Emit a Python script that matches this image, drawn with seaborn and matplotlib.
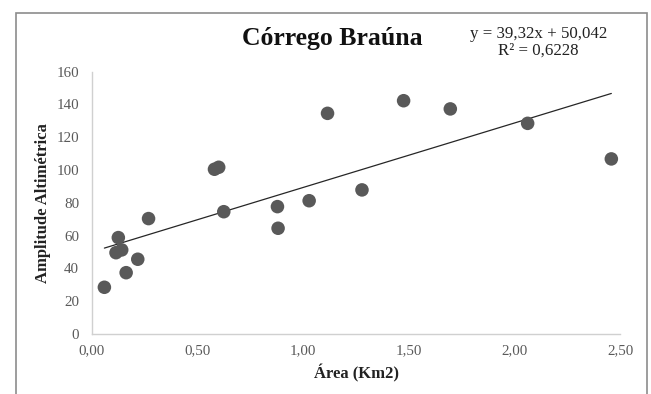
import matplotlib
matplotlib.use("Agg")
import matplotlib.pyplot as plt
import seaborn as sns
import numpy as np
import pandas as pd
from matplotlib.patches import Rectangle
from matplotlib.ticker import FuncFormatter

# Data
area_km2 = [0.060, 0.126, 0.115, 0.142, 0.163, 0.218, 0.269, 0.581, 0.601, 0.625,
            0.879, 0.882, 1.029, 1.116, 1.279, 1.476, 1.697, 2.063, 2.459]
amplitude = [28.5, 58.8, 49.6, 51.3, 37.4, 45.6, 70.4, 100.5, 101.7, 74.6,
             77.7, 64.5, 81.3, 134.6, 87.9, 142.3, 137.3, 128.5, 106.8]
slope = 39.32
intercept = 50.042
r2 = 0.6228
x_ticks = [0.0, 0.5, 1.0, 1.5, 2.0, 2.5]
y_ticks = [0, 20, 40, 60, 80, 100, 120, 140, 160]

df = pd.DataFrame({"area": area_km2, "amp": amplitude})

sns.set_theme(style="white")
plt.rcParams['font.family'] = ['Liberation Serif', 'DejaVu Serif']

fig = plt.figure(figsize=(6.51, 3.94), dpi=100)
W = 620 - 91.7
H = 334 - 71.7
ax = fig.add_axes([91.7/651, 1-334/394, W/651, H/394])

sns.scatterplot(data=df, x="area", y="amp", ax=ax, s=95, color="#595959",
                edgecolor="none", zorder=3)

xl = np.array([min(area_km2), max(area_km2)])
trend = pd.DataFrame({"x": xl, "y": slope * xl + intercept})
sns.lineplot(data=trend, x="x", y="y", ax=ax, color="#262626", linewidth=0.9, zorder=2)

ax.set_xlim(0, 2.5)
ax.set_ylim(0, 160)
ax.set_xticks(x_ticks)
ax.set_yticks(y_ticks)
ax.xaxis.set_major_formatter(FuncFormatter(lambda v, p: f"{v:.2f}".replace(".", ",")))
ax.tick_params(axis="both", length=0, labelsize=10.8, colors="#595959")
ax.tick_params(axis="y", pad=9)
ax.tick_params(axis="x", pad=7)
for sp in ["top", "right"]:
    ax.spines[sp].set_visible(False)
for sp in ["left", "bottom"]:
    ax.spines[sp].set_color("#d0d0d0")
    ax.spines[sp].set_linewidth(1.0)

ax.set_xlabel("Área (Km2)", fontsize=12, fontweight="bold", color="#222222")
ax.set_ylabel("Amplitude Altimétrica", fontsize=12, fontweight="bold", color="#222222")
ax.xaxis.set_label_coords((356-91.7)/W, -(364-334)/H)
ax.yaxis.set_label_coords(-(91.7-51)/W, 0.5)

fig.text(332/651, 1-38/394, "Córrego Braúna", ha="center", va="center",
         fontsize=18.5, fontweight="bold", color="#111111")
fig.text(538.5/651, 1-34/394, f"y = {slope:.2f}x + {intercept:.3f}".replace(".", ","),
         ha="center", va="center", fontsize=12.2, color="#222222")
fig.text(538.5/651, 1-51/394, f"R² = {r2:.4f}".replace(".", ","),
         ha="center", va="center", fontsize=12.2, color="#222222")

fig.patches.append(Rectangle((15.7/651, -0.05), (646.7-15.7)/651, 1.05 - 12.7/394,
                             transform=fig.transFigure, fill=False,
                             edgecolor="#8c8c8c", linewidth=1.2))

fig.savefig("out.png", dpi=100)
